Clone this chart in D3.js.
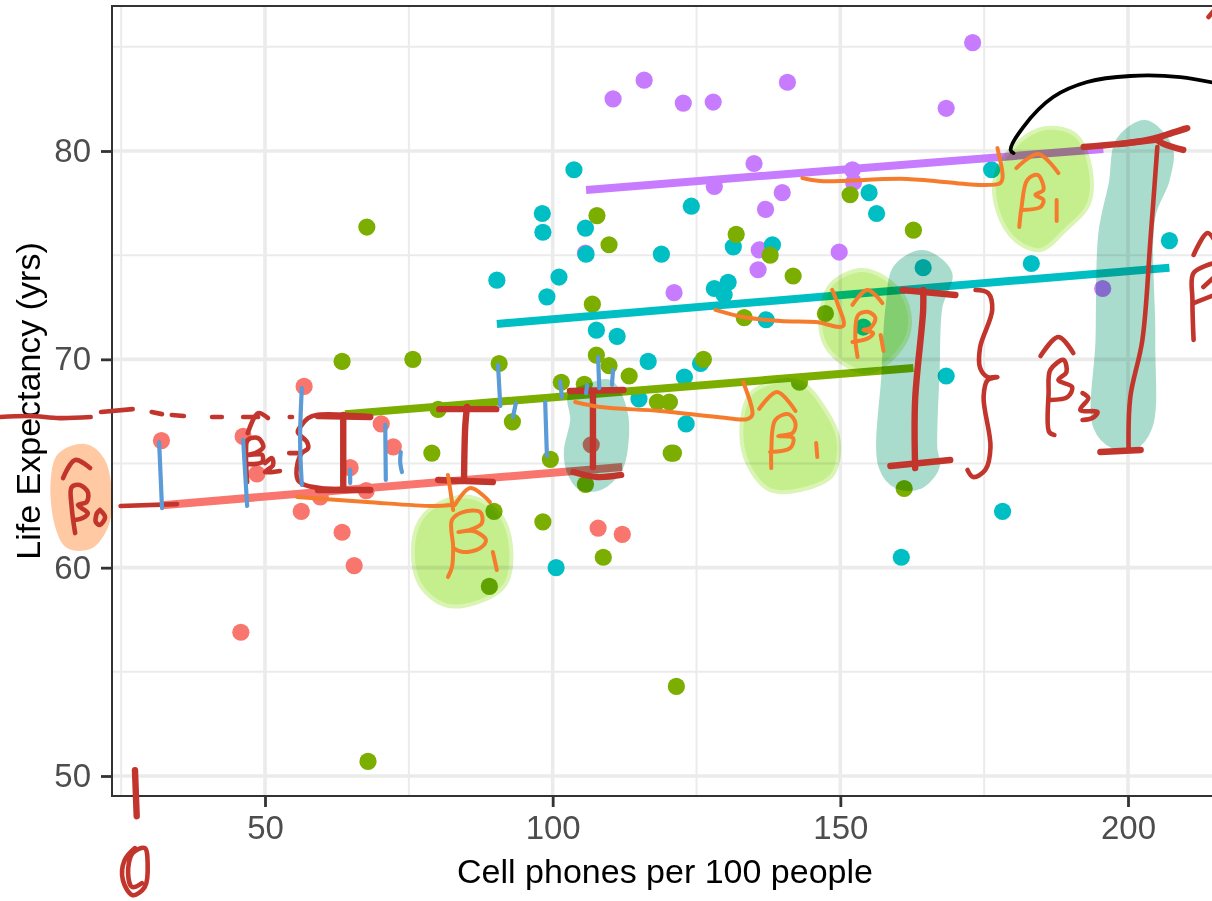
<!DOCTYPE html>
<html>
<head>
<meta charset="utf-8">
<script src="https://cdn.jsdelivr.net/npm/d3@7"></script>
<style>
  html, body { margin: 0; padding: 0; background: #fff; overflow: hidden; }
  svg { display: block; }
  text { font-family: "Liberation Sans", Arial, sans-serif; }
  .tick text { fill: #4d4d4d; font-size: 33px; }
  .tick line { stroke: #333; stroke-width: 2.8; }
  .axis-title { fill: #000; font-size: 34px; }
  .ink { fill: none; stroke-linecap: round; stroke-linejoin: round; }
</style>
</head>
<body>
<svg id="chart" width="1212" height="901"></svg>
<script>
// ---- Scatter data ----
const redX = [32.0, 46.2, 48.6, 56.8, 56.3, 63.4, 65.5, 64.8, 59.6, 70.2, 72.3, 45.8, 67.6, 107.9, 112.1, 106.7];
const redY = [66.1, 66.3, 64.5, 68.7, 62.7, 61.7, 60.1, 64.8, 63.4, 66.9, 65.8, 56.9, 63.7, 61.9, 61.6, 65.9];

const greenX = [75.7, 90.7, 80.1, 93.0, 79.0, 101.5, 105.5, 107.6, 109.8, 113.3, 99.6, 126.2, 118.2, 120.3, 121.0, 120.6,
  142.9, 105.7, 89.8, 98.3, 108.8, 89.0, 106.9, 107.7, 109.8, 67.7, 63.4, 121.5, 67.9, 131.9, 137.8, 141.8, 133.3, 147.4,
  151.7, 162.7, 161.1];
const greenY = [70.0, 69.8, 67.6, 67.0, 65.5, 68.9, 68.8, 70.2, 69.7, 69.2, 65.2, 70.0, 67.95, 67.95, 65.5, 65.5,
  68.9, 64.0, 62.7, 62.2, 60.5, 59.1, 72.65, 76.9, 75.5, 76.35, 69.9, 54.3, 50.7, 76.0, 75.0, 74.0, 72.0, 72.2,
  77.9, 76.2, 63.8];

const tealX = [103.7, 98.2, 98.3, 105.7, 105.8, 118.9, 124.1, 90.3, 101.1, 99.0, 131.4, 138.2, 130.5, 128.1, 129.8, 137.1,
  107.6, 111.2, 116.6, 122.9, 125.7, 115.0, 123.2, 100.6, 176.3, 155.0, 156.3, 207.2, 164.4, 183.2, 168.4, 178.2, 154.0, 160.6];
const tealY = [79.1, 77.0, 76.1, 76.3, 75.05, 75.05, 77.35, 73.8, 73.95, 73.0, 75.4, 75.5, 73.7, 73.4, 73.1, 71.9,
  71.4, 71.1, 69.9, 69.15, 69.8, 68.1, 66.9, 60.0, 79.1, 78.0, 77.0, 75.7, 74.4, 74.6, 69.2, 62.7, 71.55, 60.5];

const purpleX = [110.5, 115.9, 122.7, 127.9, 140.8, 135.0, 128.1, 139.9, 137.0, 135.9, 135.7, 121.1, 105.7, 173.0, 168.4, 152.1, 152.3, 149.8, 195.6];
const purpleY = [82.5, 83.4, 82.3, 82.35, 83.3, 79.4, 78.3, 78.0, 77.2, 75.25, 74.3, 73.2, 75.1, 85.2, 82.05, 79.1, 78.5, 75.15, 73.4];

// fitted lines: [start, end] for each group
const redLine = [[32.1, 63.0], [112.1, 64.83]];
const greenLine = [[63.9, 67.37], [162.7, 69.58]];
const tealLine = [[90.3, 71.7], [207.2, 74.4]];
const purpleLine = [[105.8, 78.13], [195.7, 80.1]];

const xTicks = [50, 100, 150, 200];
const yTicks = [50, 60, 70, 80];
const xMinor = [25, 75, 125, 175];
const yMinor = [55, 65, 75, 85];

// ---- Hand annotations, in the same data units as the chart ----
const peachBlobs = [
  [[18.7, 65.84], [21.8, 65.17], [23.0, 63.73], [22.5, 62.05], [19.6, 60.99], [15.7, 61.04], [13.8, 62.05], [13.1, 64.2], [14.3, 65.4]]
];
const limeBlobs = [
  [[80.4, 63.1], [85.7, 63.39], [90.9, 62.53], [92.8, 60.84], [91.7, 59.16], [86.5, 58.3], [81.3, 58.2], [77.0, 59.16], [75.7, 60.84], [77.0, 62.28]],
  [[137.8, 68.86], [143.0, 68.91], [147.4, 67.57], [149.7, 66.13], [148.6, 64.45], [143.0, 63.73], [137.8, 63.73], [134.0, 64.93], [132.8, 66.6], [134.3, 68.29]],
  [[153.5, 74.29], [157.8, 73.9], [161.3, 72.85], [162.0, 71.41], [159.6, 70.21], [155.2, 69.39], [150.9, 69.73], [147.4, 70.69], [146.5, 71.89], [148.3, 73.57]],
  [[185.7, 81.1], [190.9, 80.77], [193.5, 79.09], [193.1, 77.41], [189.1, 76.21], [184.8, 75.25], [180.4, 75.73], [177.3, 77.17], [177.0, 78.85], [180.4, 80.29]]
];
const mintBlobs = [
  [[106.5, 68.77], [110.0, 68.91], [112.6, 67.57], [112.8, 65.89], [111.7, 64.69], [108.3, 63.82], [104.8, 63.82], [102.7, 64.69], [102.3, 65.65], [103.4, 67.09], [103.0, 68.29]],
  [[164.4, 75.15], [169.1, 74.14], [167.4, 72.51], [166.9, 69.34], [166.5, 65.79], [166.9, 64.83], [163.9, 63.87], [159.9, 63.87], [157.0, 64.83], [157.5, 69.34], [158.2, 72.51], [159.6, 74.43]],
  [[203.0, 81.39], [207.4, 80.19], [206.9, 78.61], [204.4, 76.83], [204.4, 70.93], [203.9, 66.75], [201.0, 65.74], [197.5, 65.79], [194.3, 66.75], [194.7, 70.93], [195.2, 76.06], [197.0, 78.46], [198.3, 80.53]]
];

const redThin = [
  [[3.9, 67.23], [9.1, 67.28], [14.3, 67.18], [19.7, 67.23]],
  [[21.5, 67.47], [27.0, 67.61]],
  [[30.3, 67.47], [32.1, 67.37]],
  [[33.8, 67.33], [35.9, 67.28]],
  [[40.8, 67.23], [42.5, 67.23]],
  [[46.2, 67.23], [48.8, 67.23]],
  [[54.3, 67.23], [54.7, 67.23]],
  [[47.0, 66.46], [48.8, 67.42], [50.5, 67.18]],
  [[46.9, 64.11], [46.7, 65.5], [47.0, 66.13], [48.8, 66.22], [49.7, 65.79], [48.3, 65.5], [47.0, 65.41], [49.5, 65.41], [49.5, 65.07], [47.0, 64.97]],
  [[50, 65.02], [51.2, 65.26], [51.4, 64.93], [50, 64.59], [52.6, 64.64]],
  [[54.2, 65.5], [55.7, 65.5]],
  [[67.7, 67.28], [59.0, 67.33], [57.5, 67.18], [56.4, 66.85], [55.7, 66.51], [57.3, 66.03], [57.5, 65.74], [56.4, 65.5], [55.7, 65.07], [55.7, 64.21], [56.9, 63.97], [59.6, 63.82], [68.3, 63.68]],
  [[14.9, 64.3], [17.0, 65.17], [19.6, 64.78]],
  [[17.0, 61.66], [16.4, 62.91], [16.4, 63.87], [17.8, 63.97], [19.2, 63.63], [19.0, 63.15], [17.5, 63.01], [19.2, 62.62], [18.3, 62.38], [17.0, 62.29]],
  [[21.3, 62.77], [22.2, 62.43], [21.3, 62.05], [20.6, 62.19], [20.8, 62.62], [21.3, 62.77]],
  [[24.9, 62.96], [34.7, 63.05]],
  [[173.5, 73.33], [175.7, 73.18], [176.4, 72.37], [174.3, 70.59], [174.3, 69.58], [175.6, 69.15], [177.3, 69.15], [175.6, 69.0], [174.9, 68.19], [176.1, 65.79], [175.2, 64.69], [173.1, 64.35], [172.1, 64.69]],
  [[184.8, 70.16], [187.9, 71.07], [190.5, 70.3]],
  [[187.2, 66.37], [186.3, 66.51], [186.2, 68.38], [186.5, 69.49], [188.8, 69.97], [189.3, 69.39], [187.9, 69.0], [190.3, 68.67], [189.5, 68.19], [186.5, 68.05]],
  [[192.1, 68.38], [193.1, 68.14], [191.7, 67.57], [194.7, 67.47], [193.8, 67.18], [192.1, 67.09]],
  [[211.4, 75.01], [213.8, 76.06], [215.0, 75.73]],
  [[211.4, 70.93], [211.2, 72.85], [211.4, 74.14], [215.0, 74.62]],
  [[211.4, 72.7], [215.0, 73.09]],
  [[213.1, 73.47], [215.0, 73.95]],
  [[214.0, 86.43], [215.0, 86.77]],
  [[27.4, 46.54], [25.6, 45.96], [25.3, 45.0], [27.0, 44.28], [29.1, 44.67], [29.6, 45.82], [29.1, 46.54], [27.0, 46.3], [26.2, 45.34], [26.9, 44.67], [28.6, 44.86]],
  [[200.1, 65.74], [200.4, 68.19], [202.5, 70.93], [203.9, 75.73], [205.1, 80.19]]
];
const redThick = [
  [[59.2, 67.28], [68.3, 67.23]],
  [[59.2, 63.73], [68.3, 63.73]],
  [[63.6, 67.33], [63.6, 63.87]],
  [[80.3, 67.61], [90.2, 67.61]],
  [[85.1, 67.71], [84.8, 66.75], [84.6, 64.35]],
  [[80.1, 64.21], [89.6, 64.11]],
  [[103.0, 68.48], [112.3, 68.53]],
  [[107.0, 68.38], [107.0, 64.83]],
  [[103.6, 64.59], [107.7, 64.35], [111.9, 64.45]],
  [[160.8, 73.33], [170.0, 73.09]],
  [[164.4, 73.33], [164.4, 72.37], [163.0, 68.05], [163.0, 64.78]],
  [[158.7, 64.88], [169.1, 65.17]],
  [[195.2, 65.55], [202.2, 65.65]],
  [[192.3, 80.19], [203.4, 80.53], [210.3, 81.1], [205.1, 80.53], [209.6, 80.05]],
  [[198.5, 80.33], [205.1, 80.55]],
  [[27.4, 50.28], [27.7, 48.07]]
];
const blueStrokes = [
  [[31.6, 66.03], [32.1, 62.86]],
  [[46.2, 66.13], [46.9, 62.96]],
  [[56.4, 68.62], [56.1, 66.13], [56.4, 63.97]],
  [[64.8, 64.69], [64.8, 64.06]],
  [[70.9, 66.85], [71.0, 64.21]],
  [[73.6, 65.55], [73.5, 65.07], [73.8, 64.59]],
  [[90.5, 69.73], [90.9, 67.76]],
  [[93.6, 67.9], [93.1, 67.23]],
  [[98.7, 67.95], [99.0, 65.36]],
  [[101.3, 68.96], [101.6, 68.19]],
  [[106.0, 68.77], [105.8, 68.38]],
  [[107.9, 70.11], [108.1, 68.62]],
  [[110.5, 69.49], [110.3, 68.77]]
];
const orangeStrokes = [
  [[55.6, 63.39], [67.7, 63.15], [79.2, 62.96], [82.5, 63.01]],
  [[81.8, 64.45], [82.2, 63.73], [82.7, 62.77]],
  [[83.0, 63.01], [85.7, 63.82], [89.1, 63.15]],
  [[81.8, 59.55], [82.5, 60.03], [82.7, 60.99], [82.5, 62.29], [84.4, 62.67], [87.4, 62.67], [87.7, 62.14], [85.6, 61.81], [83.6, 61.71], [86.2, 61.76], [88.4, 61.33], [87.4, 60.94], [84.4, 60.75], [82.7, 60.94]],
  [[89.6, 60.75], [90.3, 59.89]],
  [[103.9, 67.95], [108.3, 67.71], [118.7, 67.52], [128.6, 67.23], [133.8, 67.13], [134.7, 67.33], [133.1, 68.91]],
  [[135.9, 67.62], [139.0, 68.43], [142.2, 67.52]],
  [[138, 64.78], [138, 65.65], [138.7, 67.09], [141, 67.37], [142.2, 66.94], [141.7, 66.46], [139.2, 66.32], [141.8, 66.22], [141.3, 65.74], [137.8, 65.55]],
  [[145.8, 65.98], [146, 65.31]],
  [[128.3, 72.37], [133.1, 72.03], [139.6, 71.84], [145.7, 71.79], [150.5, 71.6], [149.6, 72.61], [148.6, 73.33]],
  [[152.1, 72.61], [154.7, 73.33], [157.3, 72.7]],
  [[153, 70.11], [152.6, 71.07], [153.1, 72.13], [154.9, 72.27], [156.1, 71.98], [155.2, 71.5], [154, 71.41], [155.7, 71.26], [154.9, 71.02], [152.1, 70.83]],
  [[157, 71.17], [157.5, 70.4]],
  [[143.4, 78.7], [146.5, 78.56], [161.6, 78.66], [174.3, 78.37], [177.8, 78.46], [178.2, 78.7], [177.3, 80.14]],
  [[180.6, 79.18], [184.4, 79.86], [187.9, 78.94]],
  [[181.1, 76.35], [181.5, 77.31], [182.5, 78.61], [184.3, 78.85], [185.3, 78.13], [183.9, 77.89], [185.3, 77.65], [184.8, 77.31], [181.6, 77.17]],
  [[187.6, 77.65], [187.6, 76.64]]
];
const blackStrokes = [
  [[180.1, 79.9], [179.6, 80.05], [181.8, 81.15], [187, 82.59], [192.9, 83.31], [200.4, 83.6], [209.1, 83.55], [215, 83.27]]
];

// ---- Layout ----
const PANEL = { left: 112, top: 6, right: 1240, bottom: 796 };
const DOT_R = 8.6;

const x = d3.scaleLinear().domain([50, 200]).range([265, 1128]);
const y = d3.scaleLinear().domain([50, 80]).range([776, 151]);

const svg = d3.select("#chart");

const line = d3.line().x((d) => x(d[0])).y((d) => y(d[1]));
const inkLine = d3.line().x((d) => x(d[0])).y((d) => y(d[1])).curve(d3.curveCatmullRom.alpha(0.5));
const blobLine = d3.line().x((d) => x(d[0])).y((d) => y(d[1])).curve(d3.curveCatmullRomClosed.alpha(0.5));

// Grid
const grid = svg.append("g");
grid.selectAll("line.minor-x").data(xMinor).join("line")
  .attr("x1", (d) => x(d)).attr("x2", (d) => x(d))
  .attr("y1", PANEL.top).attr("y2", PANEL.bottom)
  .attr("stroke", "#ebebeb").attr("stroke-width", 2);
grid.selectAll("line.minor-y").data(yMinor).join("line")
  .attr("x1", PANEL.left).attr("x2", PANEL.right)
  .attr("y1", (d) => y(d)).attr("y2", (d) => y(d))
  .attr("stroke", "#ebebeb").attr("stroke-width", 2);
grid.selectAll("line.major-x").data(xTicks).join("line")
  .attr("x1", (d) => x(d)).attr("x2", (d) => x(d))
  .attr("y1", PANEL.top).attr("y2", PANEL.bottom)
  .attr("stroke", "#ebebeb").attr("stroke-width", 3.6);
grid.selectAll("line.major-y").data(yTicks).join("line")
  .attr("x1", PANEL.left).attr("x2", PANEL.right)
  .attr("y1", (d) => y(d)).attr("y2", (d) => y(d))
  .attr("stroke", "#ebebeb").attr("stroke-width", 3.6);

// Points, one group at a time
function drawDots(xs, ys, color) {
  svg.append("g").selectAll("circle").data(xs).join("circle")
    .attr("cx", (d) => x(d))
    .attr("cy", (d, i) => y(ys[i]))
    .attr("r", DOT_R)
    .attr("fill", color);
}
drawDots(purpleX, purpleY, "#C77CFF");
drawDots(redX, redY, "#F8766D");
drawDots(tealX, tealY, "#00BFC4");
drawDots(greenX, greenY, "#7CAE00");

// Fitted lines
[[redLine, "#F8766D"], [greenLine, "#7CAE00"], [tealLine, "#00BFC4"], [purpleLine, "#C77CFF"]].forEach(([pts, color]) => {
  svg.append("path").attr("d", line(pts))
    .attr("fill", "none").attr("stroke", color).attr("stroke-width", 8);
});

// Panel border and axes
svg.append("rect")
  .attr("x", PANEL.left).attr("y", PANEL.top)
  .attr("width", PANEL.right - PANEL.left).attr("height", PANEL.bottom - PANEL.top)
  .attr("fill", "none").attr("stroke", "#333").attr("stroke-width", 2);

const xAxis = svg.append("g").attr("transform", `translate(0,${PANEL.bottom})`)
  .call(d3.axisBottom(x).tickValues(xTicks).tickSize(11).tickPadding(9));
const yAxis = svg.append("g").attr("transform", `translate(${PANEL.left},0)`)
  .call(d3.axisLeft(y).tickValues(yTicks).tickSize(11).tickPadding(10));
xAxis.select(".domain").remove();
yAxis.select(".domain").remove();

svg.append("text").attr("class", "axis-title")
  .attr("x", 665).attr("y", 883).attr("text-anchor", "middle")
  .text("Cell phones per 100 people");
svg.append("text").attr("class", "axis-title")
  .attr("transform", "translate(40,401) rotate(-90)").attr("text-anchor", "middle")
  .text("Life Expectancy (yrs)");

// Highlighter blobs
function drawBlobs(blobs, color, edge) {
  svg.append("g").style("mix-blend-mode", "multiply").selectAll("path").data(blobs).join("path")
    .attr("d", blobLine)
    .attr("fill", color)
    .attr("stroke", edge)
    .attr("stroke-width", 4);
}
drawBlobs(peachBlobs, "#FFC9A3", "#FFC9A3");
drawBlobs(limeBlobs, "#C5EF8D", "#D9F4B3");
drawBlobs(mintBlobs, "#AADCCD", "#AADCCD");

// Pen strokes
function drawInk(strokes, color, width) {
  svg.append("g").selectAll("path").data(strokes).join("path")
    .attr("class", "ink")
    .attr("d", inkLine)
    .attr("stroke", color)
    .attr("stroke-width", width);
}
drawInk(redThin, "#C2352C", 4.6);
drawInk(redThick, "#C2352C", 6.4);
drawInk(blueStrokes, "#5B9BD8", 4.2);
drawInk(orangeStrokes, "#F47C2C", 4);
drawInk(blackStrokes, "#000", 3.8);
</script>
</body>
</html>
